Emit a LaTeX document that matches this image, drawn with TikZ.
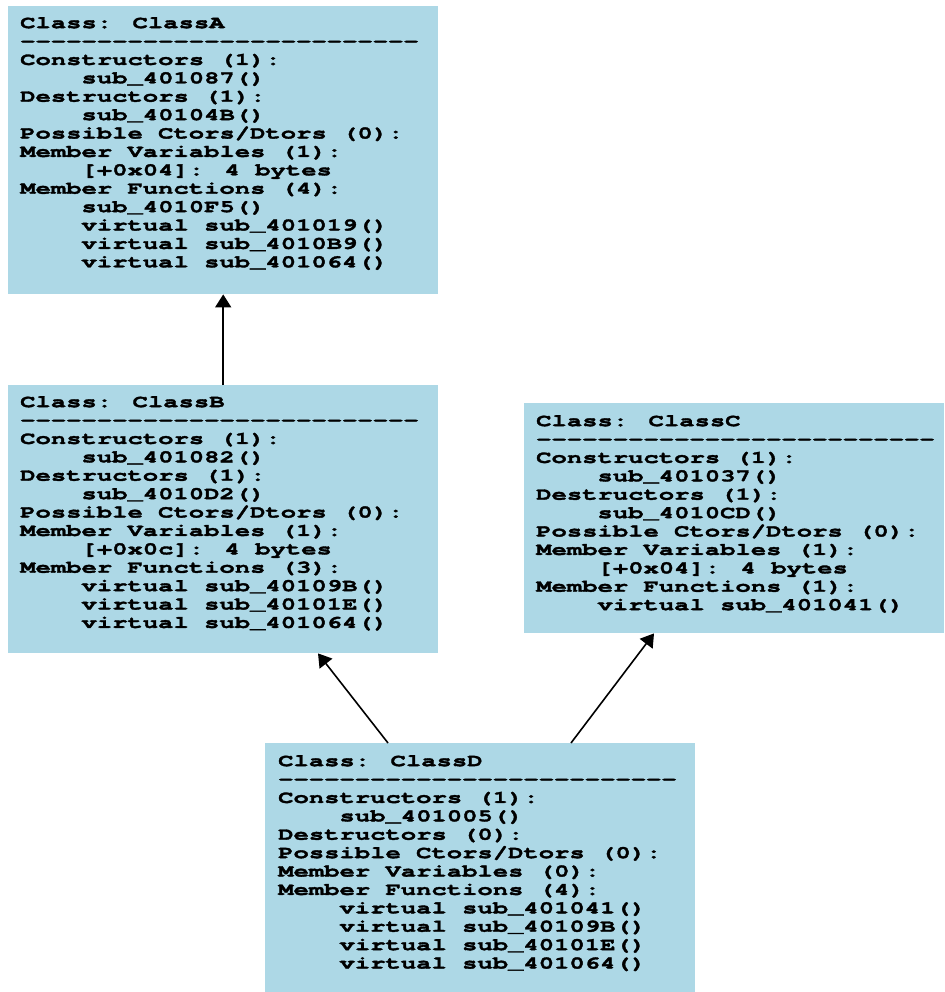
\documentclass[tikz,border=0pt]{standalone}
\usepackage{fontspec}
\newfontfamily\classfont[FakeStretch=1.46,FakeBold=2,Ligatures=TeXOff]{TeX Gyre Cursor}
\usetikzlibrary{arrows.meta}
\definecolor{boxblue}{RGB}{173,216,230}
\newcommand\ind{\phantom{0000}}
\newcommand\sepline{--------------------------}
\begin{document}
\begin{tikzpicture}[x=1pt,y=-1pt,
  classbox/.style={fill=boxblue,inner sep=0pt,anchor=north west},
  classtext/.style={anchor=north west,inner sep=0pt,align=left,
    font=\classfont\bfseries\fontsize{17.5}{18.4}\selectfont},
  inherit/.style={-{Triangle[length=13pt,width=16pt]},line width=1.6pt}]

  \useasboundingbox (0,0) rectangle (944,992);

  % Class boxes
  \node[classbox,minimum width=430pt,minimum height=288pt] (A) at (8,6) {};
  \node[classbox,minimum width=430pt,minimum height=268pt] (B) at (8,385) {};
  \node[classbox,minimum width=420pt,minimum height=230pt] (C) at (524,403) {};
  \node[classbox,minimum width=430pt,minimum height=249pt] (D) at (265,743) {};

  % Class contents
  \node[classtext] (Atext) at ([shift={(12,11)}]A.north west) {Class: ClassA\\
    \sepline\\
    Constructors (1):\\
    \ind sub\_401087()\\
    Destructors (1):\\
    \ind sub\_40104B()\\
    Possible Ctors/Dtors (0):\\
    Member Variables (1):\\
    \ind [+0x04]: 4 bytes\\
    Member Functions (4):\\
    \ind sub\_4010F5()\\
    \ind virtual sub\_401019()\\
    \ind virtual sub\_4010B9()\\
    \ind virtual sub\_401064()};
  \node[classtext] (Btext) at ([shift={(12,11)}]B.north west) {Class: ClassB\\
    \sepline\\
    Constructors (1):\\
    \ind sub\_401082()\\
    Destructors (1):\\
    \ind sub\_4010D2()\\
    Possible Ctors/Dtors (0):\\
    Member Variables (1):\\
    \ind [+0x0c]: 4 bytes\\
    Member Functions (3):\\
    \ind virtual sub\_40109B()\\
    \ind virtual sub\_40101E()\\
    \ind virtual sub\_401064()};
  \node[classtext] (Ctext) at ([shift={(12,12)}]C.north west) {Class: ClassC\\
    \sepline\\
    Constructors (1):\\
    \ind sub\_401037()\\
    Destructors (1):\\
    \ind sub\_4010CD()\\
    Possible Ctors/Dtors (0):\\
    Member Variables (1):\\
    \ind [+0x04]: 4 bytes\\
    Member Functions (1):\\
    \ind virtual sub\_401041()};
  \node[classtext] (Dtext) at ([shift={(13,12)}]D.north west) {Class: ClassD\\
    \sepline\\
    Constructors (1):\\
    \ind sub\_401005()\\
    Destructors (0):\\
    Possible Ctors/Dtors (0):\\
    Member Variables (0):\\
    Member Functions (4):\\
    \ind virtual sub\_401041()\\
    \ind virtual sub\_40109B()\\
    \ind virtual sub\_40101E()\\
    \ind virtual sub\_401064()};

  % Inheritance arrows
  \draw[inherit] (B) -- (A);
  \draw[inherit] ([xshift=123pt]D.north west) -- ([xshift=310pt]B.south west);
  \draw[inherit] ([xshift=306pt]D.north west) -- ([xshift=130pt]C.south west);
\end{tikzpicture}
\end{document}
